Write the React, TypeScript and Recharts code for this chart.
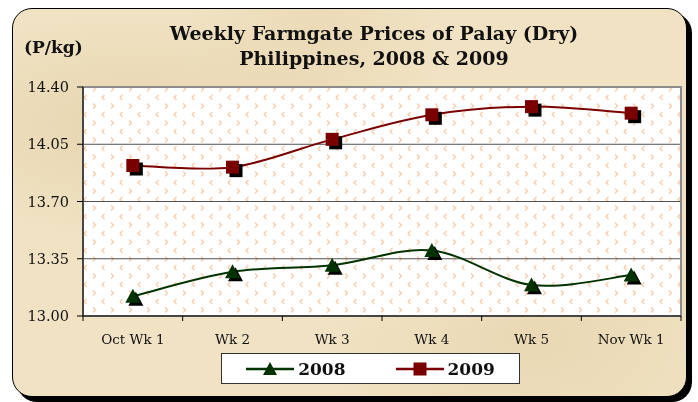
import { LineChart, Line, XAxis, YAxis, CartesianGrid, Legend, ReferenceArea } from 'recharts'

const weeks = ['Oct Wk 1', 'Wk 2', 'Wk 3', 'Wk 4', 'Wk 5', 'Nov Wk 1']
const prices2008 = [13.12, 13.27, 13.31, 13.4, 13.19, 13.25]
const prices2009 = [13.92, 13.91, 14.08, 14.23, 14.28, 14.24]
const yTicks = [13.0, 13.35, 13.7, 14.05, 14.4]

const data = weeks.map((week, i) => ({ week, y2008: prices2008[i], y2009: prices2009[i] }))

const FONT = '"DejaVu Serif", "Liberation Serif", serif'
const GREEN = '#003300'
const RED = '#7a0000'

// smoothed line close to the spreadsheet's "smoothed line" option
const smoothCurve = (ctx: any) => {
  let pts: number[][] = []
  return {
    areaStart() {},
    areaEnd() {},
    lineStart() {
      pts = []
    },
    point(x: number, y: number) {
      pts.push([+x, +y])
    },
    lineEnd() {
      if (!pts.length) return
      ctx.moveTo(pts[0][0], pts[0][1])
      for (let i = 0; i < pts.length - 1; i++) {
        const p0 = pts[Math.max(i - 1, 0)]
        const p1 = pts[i]
        const p2 = pts[i + 1]
        const p3 = pts[Math.min(i + 2, pts.length - 1)]
        ctx.bezierCurveTo(
          p1[0] + (p2[0] - p0[0]) / 6,
          p1[1] + (p2[1] - p0[1]) / 6,
          p2[0] - (p3[0] - p1[0]) / 6,
          p2[1] - (p3[1] - p1[1]) / 6,
          p2[0],
          p2[1]
        )
      }
    },
  }
}

const Triangle = ({ cx, cy, color, s = 7.5 }: any) => (
  <path d={`M${cx},${cy - s} L${cx + s},${cy + s * 0.85} L${cx - s},${cy + s * 0.85} Z`} fill={color} />
)

const TriangleDot = (props: any) => {
  const { cx, cy, index } = props
  if (cx == null || cy == null) return null
  return (
    <g key={`t${index}`}>
      <Triangle cx={cx + 3} cy={cy + 3} color="#000" />
      <Triangle cx={cx} cy={cy} color={GREEN} />
    </g>
  )
}

const SquareDot = (props: any) => {
  const { cx, cy, index } = props
  if (cx == null || cy == null) return null
  return (
    <g key={`s${index}`}>
      <rect x={cx - 6.5 + 3.5} y={cy - 6.5 + 3.5} width={13} height={13} fill="#000" />
      <rect x={cx - 6.5} y={cy - 6.5} width={13} height={13} fill={RED} />
    </g>
  )
}

const WeekTick = (props: any) => {
  const { x, y, payload, index, visibleTicksCount, width } = props
  const half = payload?.offset || (width ? width / visibleTicksCount / 2 : 50)
  return (
    <g>
      <line x1={x - half} x2={x - half} y1={y} y2={y + 5} stroke="#000" />
      {index === visibleTicksCount - 1 && <line x1={x + half} x2={x + half} y1={y} y2={y + 5} stroke="#000" />}
      <text x={x} y={y + 28} textAnchor="middle" fill="#111" fontFamily={FONT} fontSize={13.5}>
        {payload.value}
      </text>
    </g>
  )
}

const LegendBox = ({ payload }: any) => (
  <div
    style={{
      boxSizing: 'border-box',
      width: 299,
      height: 31,
      background: '#fff',
      border: '1.5px solid #333',
      display: 'flex',
      alignItems: 'center',
      justifyContent: 'center',
      gap: 50,
      fontFamily: FONT,
      fontWeight: 'bold',
      fontSize: 17,
    }}
  >
    {(payload || []).map((p: any) => (
      <div key={p.value} style={{ display: 'flex', alignItems: 'center', gap: 4 }}>
        <svg width={48} height={16}>
          <line x1={0} x2={48} y1={8} y2={8} stroke={p.color} strokeWidth={2.5} />
          {p.value === '2008' ? (
            <path d="M24,1 L31,14 L17,14 Z" fill={GREEN} />
          ) : (
            <rect x={17.5} y={1.5} width={13} height={13} fill={RED} />
          )}
        </svg>
        <span style={{ color: '#111' }}>{p.value}</span>
      </div>
    ))}
  </div>
)

export default function App() {
  return (
    <div style={{ position: 'fixed', left: 0, top: 0, width: 698, height: 402 }}>
      <div
        style={{
          position: 'absolute',
          left: 12,
          top: 8,
          width: 675,
          height: 389,
          boxSizing: 'border-box',
          borderRadius: 20,
          border: '1px solid #000',
          boxShadow: '5px 5px 0 #000',
          background:
            'radial-gradient(ellipse at 18% 30%, rgba(222,200,155,0.5), transparent 30%), radial-gradient(ellipse at 78% 85%, rgba(226,204,160,0.45), transparent 30%), radial-gradient(ellipse at 45% 8%, rgba(228,206,162,0.4), transparent 25%), radial-gradient(ellipse at 60% 55%, rgba(250,242,222,0.5), transparent 40%), #f0e2c3',
        }}
      />
      <div
        style={{
          position: 'absolute',
          left: 24,
          top: 37,
          fontFamily: FONT,
          fontWeight: 'bold',
          fontSize: 17,
          color: '#111',
        }}
      >
        (P/kg)
      </div>
      <div
        style={{
          position: 'absolute',
          left: 124,
          top: 21,
          width: 500,
          textAlign: 'center',
          fontFamily: FONT,
          fontWeight: 'bold',
          fontSize: 19,
          lineHeight: '25px',
          color: '#111',
        }}
      >
        Weekly Farmgate Prices of Palay (Dry)
        <br />
        Philippines, 2008 &amp; 2009
      </div>
      <div style={{ position: 'absolute', left: 0, top: 0 }}>
        <LineChart width={698} height={402} data={data} margin={{ top: 87, right: 17, bottom: 10, left: 12 }}>
          <defs>
            <pattern id="chev" width={18} height={17} patternUnits="userSpaceOnUse">
              <rect width={18} height={17} fill="#fff" />
              <g fill="none" stroke="#fbc8a2" strokeWidth={1.1}>
                <path d="M3,1.5 L5.5,4 L3,6.5" />
                <path d="M14.5,10 L12,12.5 L14.5,15" />
              </g>
            </pattern>
          </defs>
          <CartesianGrid vertical={false} stroke="#505050" fill="url(#chev)" fillOpacity={1} />
          <ReferenceArea y1={13} y2={14.4} fill="none" stroke="#8c8c8c" strokeWidth={2} />
          <XAxis
            dataKey="week"
            scale="band"
            height={45}
            tickLine={false}
            tickSize={0}
            tickMargin={0}
            axisLine={{ stroke: '#000' }}
            tick={<WeekTick />}
            interval={0}
          />
          <YAxis
            width={71}
            domain={[13, 14.4]}
            ticks={yTicks}
            tickFormatter={(v: number) => v.toFixed(2)}
            tick={{ fill: '#111', fontFamily: FONT, fontSize: 14.5 }}
            tickSize={6}
            tickMargin={8}
            axisLine={{ stroke: '#000' }}
            tickLine={{ stroke: '#000' }}
            allowDataOverflow
          />
          <Legend
            content={<LegendBox />}
            verticalAlign="bottom"
            wrapperStyle={{ top: 353, left: 221, width: 'auto', height: 31 }}
          />
          <Line
            name="2008"
            dataKey="y2008"
            type={smoothCurve as any}
            stroke={GREEN}
            strokeWidth={2}
            dot={<TriangleDot />}
            activeDot={false}
            isAnimationActive={false}
          />
          <Line
            name="2009"
            dataKey="y2009"
            type={smoothCurve as any}
            stroke={RED}
            strokeWidth={2}
            dot={<SquareDot />}
            activeDot={false}
            isAnimationActive={false}
          />
        </LineChart>
      </div>
    </div>
  )
}
